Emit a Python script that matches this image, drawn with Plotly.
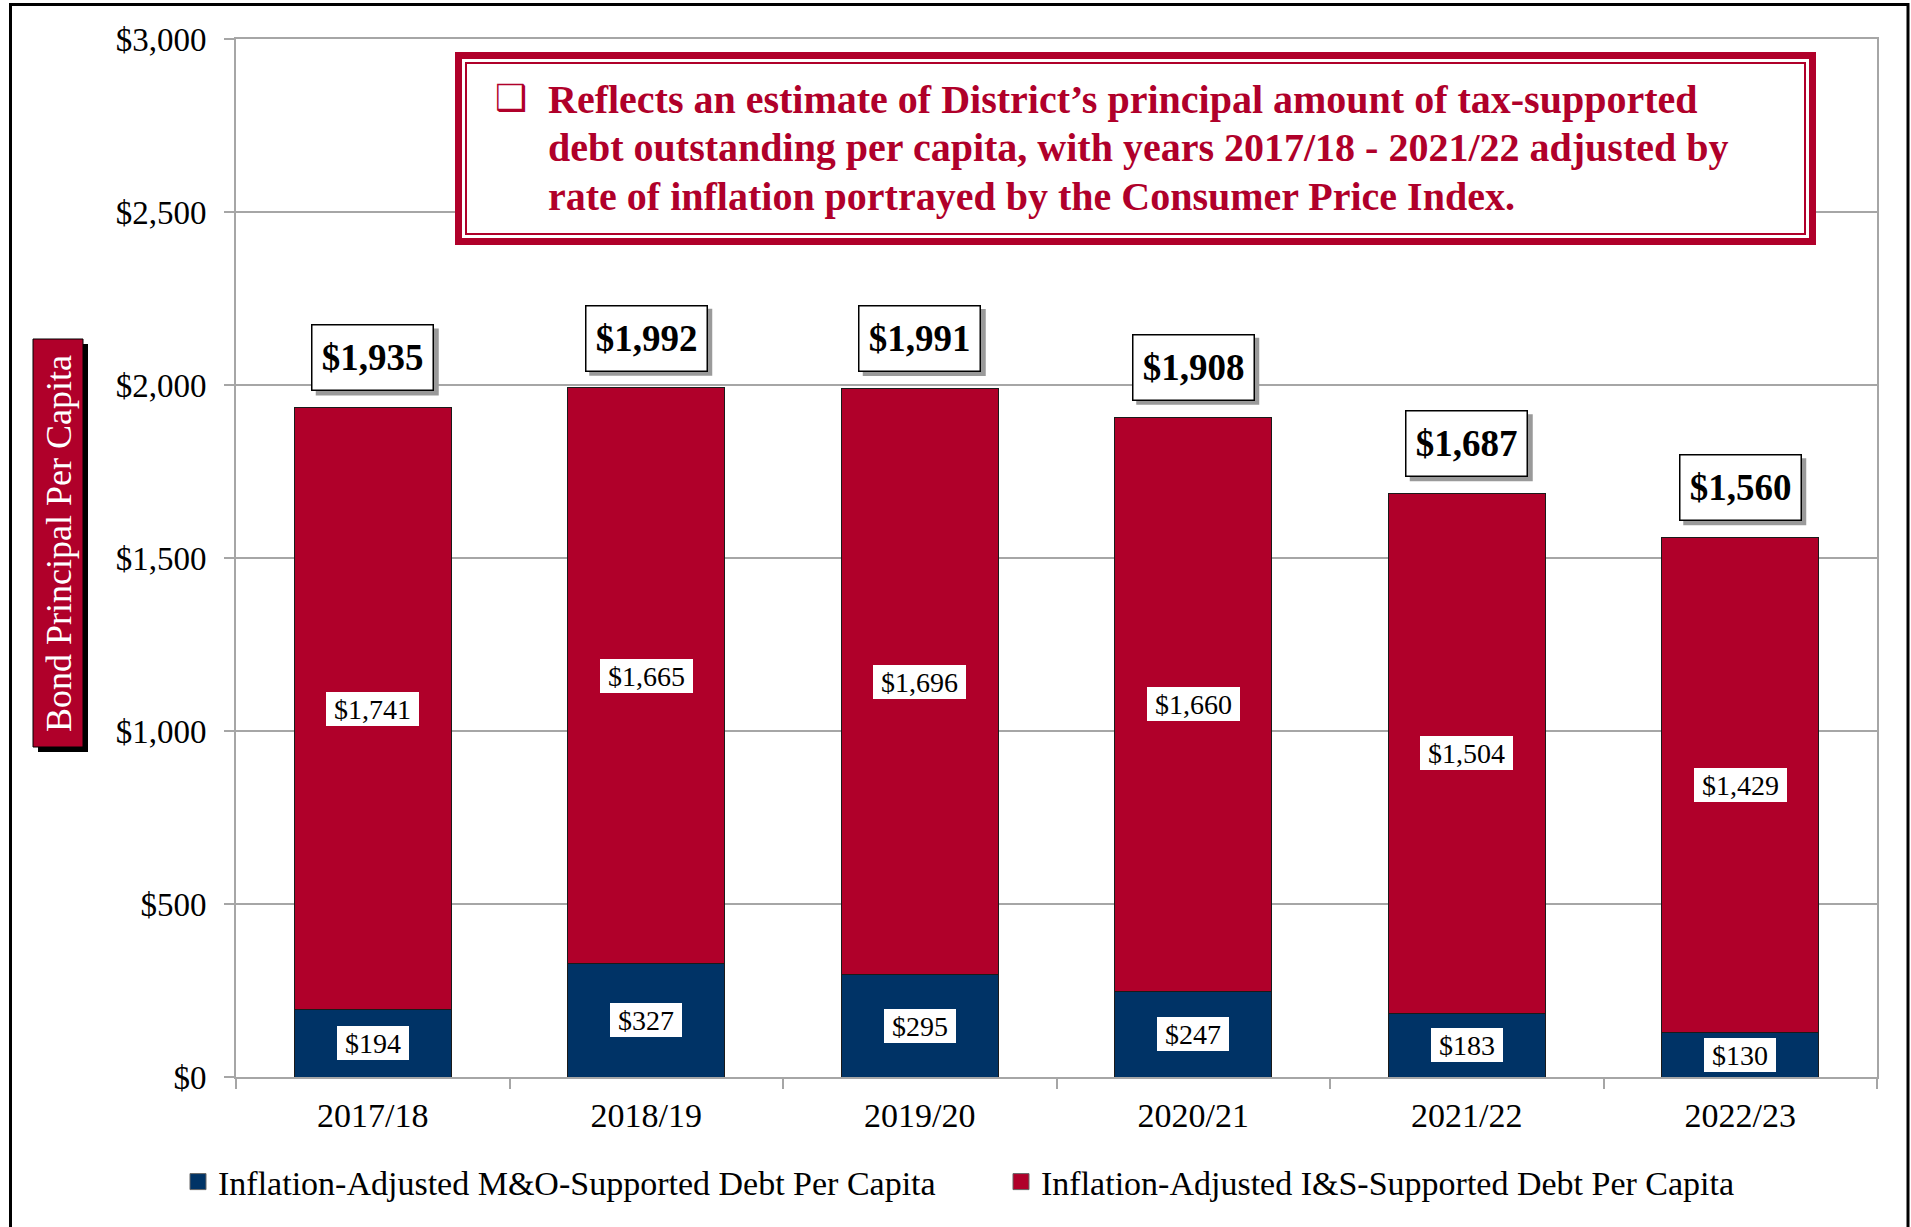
import plotly.graph_objects as go

# ---------------- data ----------------
categories = ["2017/18", "2018/19", "2019/20", "2020/21", "2021/22", "2022/23"]
mo_values = [194, 327, 295, 247, 183, 130]          # M&O-supported (navy, bottom)
is_values = [1741, 1665, 1696, 1660, 1504, 1429]    # I&S-supported (red, top)
total_values = [1935, 1992, 1991, 1908, 1687, 1560]  # labelled totals
series_names = ["Inflation-Adjusted M&O-Supported Debt Per Capita",
                "Inflation-Adjusted I&S-Supported Debt Per Capita"]
y_tick_values = [0, 500, 1000, 1500, 2000, 2500, 3000]
y_tick_labels = ["$" + f"{v:,}" for v in y_tick_values]
y_title = "Bond Principal Per Capita"
note_bullet = "\u2751"
note_lines = [
    "Reflects an estimate of District\u2019s principal amount of tax-supported",
    "debt outstanding per capita, with years 2017/18 - 2021/22 adjusted by",
    "rate of inflation portrayed by the Consumer Price Index.",
]

# ---------------- geometry helpers ----------------
W, H = 1911, 1227
L, R, T, B = 236, 34, 39, 150
PW, PH = W - L - R, H - T - B


def px(x):
    return (x - L) / PW


def py(y):
    return (H - B - y) / PH


RED = "#B0002A"
BLUE = "#003366"
GRID = "#A6A6A6"
SERIF = "Liberation Serif, Times New Roman, serif"

fig = go.Figure()
fig.add_bar(x=categories, y=mo_values, name=series_names[0], showlegend=False,
            marker=dict(color=BLUE, line=dict(color="#1a1a1a", width=1)))
fig.add_bar(x=categories, y=is_values, name=series_names[1], showlegend=False,
            marker=dict(color=RED, line=dict(color="#1a1a1a", width=1)))
# legend entries (square swatches)
for name, col in zip(series_names, [BLUE, RED]):
    fig.add_scatter(x=[categories[0]], y=[None], mode="markers", name=name,
                    marker=dict(symbol="square", size=16, color=col,
                                line=dict(color="#666666", width=1)))

annotations = []
shapes = []

# inner value labels
for cat, mo, iv in zip(categories, mo_values, is_values):
    for val, ypos in [(mo, mo / 2), (iv, mo + iv / 2)]:
        annotations.append(dict(
            x=cat, y=ypos, xref="x", yref="y", showarrow=False,
            text="\u00a0$" + f"{val:,}" + "\u00a0",
            font=dict(family=SERIF, size=28, color="black"),
            bgcolor="white", borderpad=1, borderwidth=0, height=32,
        ))

# total labels with shadow
for cat, tot in zip(categories, total_values):
    shapes.append(dict(
        type="rect", xref="x", yref="y", xsizemode="pixel", ysizemode="pixel",
        xanchor=cat, yanchor=tot, x0=-61 + 4, x1=62 + 4, y0=16 - 4, y1=16 + 67 - 4,
        fillcolor="#9a9a9a", line=dict(width=0), layer="above"))
    annotations.append(dict(
        x=cat, y=tot, xref="x", yref="y", showarrow=False,
        yanchor="bottom", yshift=16,
        text="$" + f"{tot:,}",
        font=dict(family=SERIF, size=37, color="black", weight="bold"),
        bgcolor="white", bordercolor="black", borderwidth=1.5, borderpad=8,
        width=104, height=48,
    ))

# frame around the whole chart
shapes.append(dict(type="rect", xref="paper", yref="paper",
                   x0=px(10.5), x1=px(1908), y0=py(1260), y1=py(4.5),
                   line=dict(color="black", width=3), fillcolor="rgba(0,0,0,0)",
                   layer="above"))

# note box (double red border)
shapes.append(dict(type="rect", xref="paper", yref="paper",
                   x0=px(458.5), x1=px(1812.5), y0=py(241.5), y1=py(55.5),
                   line=dict(color=RED, width=7), fillcolor="white", layer="above"))
shapes.append(dict(type="rect", xref="paper", yref="paper",
                   x0=px(466), x1=px(1805), y0=py(234), y1=py(63),
                   line=dict(color=RED, width=2), fillcolor="rgba(0,0,0,0)", layer="above"))

# y-axis title box with shadow
shapes.append(dict(type="rect", xref="paper", yref="paper",
                   x0=px(38), x1=px(88), y0=py(752), y1=py(344),
                   fillcolor="black", line=dict(width=0), layer="above"))
shapes.append(dict(type="rect", xref="paper", yref="paper",
                   x0=px(33), x1=px(83), y0=py(747), y1=py(339),
                   fillcolor=RED, line=dict(color="black", width=1), layer="above"))

annotations.append(dict(
    x=px(59), y=py(544), xref="paper", yref="paper", showarrow=False,
    xanchor="center", yanchor="middle",
    text=y_title, textangle=-90,
    font=dict(family=SERIF, size=36, color="white")))

annotations.append(dict(
    x=px(511), y=py(98), xref="paper", yref="paper", showarrow=False,
    xanchor="center", yanchor="middle", text=note_bullet,
    font=dict(family="DejaVu Sans", size=36, color=RED, weight="bold")))
for line_text, yc in zip(note_lines, [100, 148, 196]):
    annotations.append(dict(
        x=px(546), y=py(yc), xref="paper", yref="paper", showarrow=False,
        xanchor="left", yanchor="middle", align="left", text=line_text,
        font=dict(family=SERIF, size=40, color=RED, weight="bold")))

fig.update_layout(
    width=W, height=H,
    margin=dict(l=L, r=R, t=T, b=B, autoexpand=False),
    barmode="stack", bargap=0.426,
    plot_bgcolor="white", paper_bgcolor="white",
    font=dict(family=SERIF, color="black"),
    xaxis=dict(type="category", showline=True, linecolor=GRID, linewidth=2, mirror=True,
               ticks="outside", tickson="boundaries", ticklen=10, tickcolor=GRID,
               tickwidth=2, tickfont=dict(family=SERIF, size=34, color="black"),
               ticklabelstandoff=7, showgrid=False),
    yaxis=dict(range=[0, 3000], tickmode="array", tickvals=y_tick_values,
               ticktext=y_tick_labels,
               showgrid=True, gridcolor=GRID, gridwidth=1.5, zeroline=False,
               showline=True, linecolor=GRID, linewidth=2, mirror=True,
               ticks="outside", ticklen=10, tickcolor=GRID, tickwidth=2,
               tickfont=dict(family=SERIF, size=33, color="black"),
               ticklabelstandoff=11),
    legend=dict(orientation="h", x=px(178), xanchor="left", y=py(1182), yanchor="middle",
                traceorder="normal",
                font=dict(family=SERIF, size=34, color="black"),
                entrywidth=778, entrywidthmode="pixels", bgcolor="rgba(0,0,0,0)"),
    showlegend=True,
    annotations=annotations,
    shapes=shapes,
    hovermode=False,
)

fig.write_html("out.html", config={"displayModeBar": False},
               post_script="document.body.style.margin='0px';")
